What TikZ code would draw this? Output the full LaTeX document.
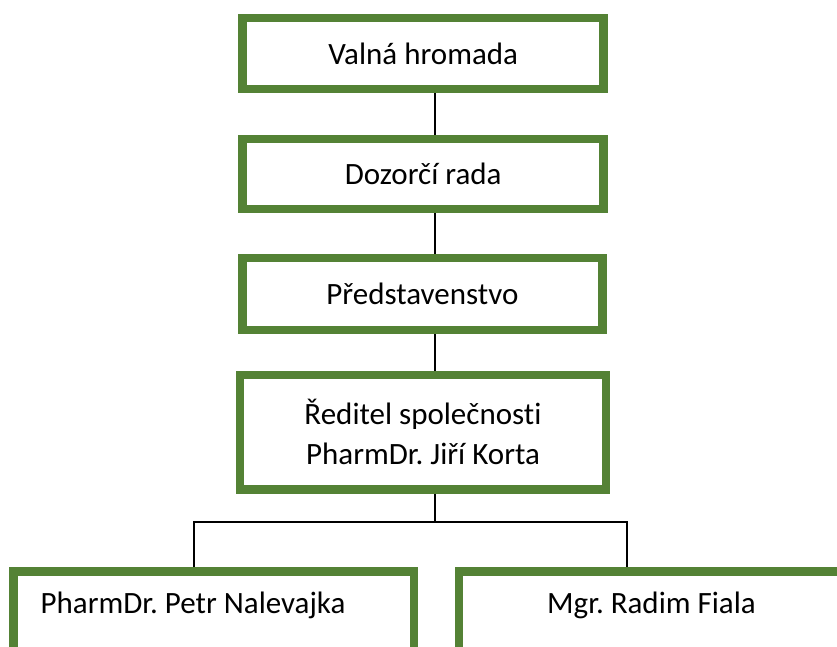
\documentclass[tikz,border=0pt]{standalone}
\usepackage{fontspec}
\setmainfont{Carlito}[Ligatures=NoCommon]
\usepackage{tikz}
\frenchspacing

\definecolor{boxgreen}{RGB}{84,130,53}

\tikzset{
  orgbox/.style={draw=boxgreen, line width=8.5pt, rectangle, fill=white,
    inner sep=0pt, align=center, font=\fontsize{31}{40}\selectfont},
  orgtext/.style={inner sep=0pt, anchor=base, font=\fontsize{31}{40}\selectfont},
  link/.style={black, line width=1.4pt}
}

\begin{document}
\begin{tikzpicture}[x=1pt,y=-1pt]
  \useasboundingbox (0,0) rectangle (837,646);

  % boxes of the chain
  \node[orgbox, minimum width=361pt, minimum height=70.6pt] (valna)   at (423.2,53.5) {Valná hromada};
  \node[orgbox, minimum width=361pt, minimum height=69.6pt] (dozor)   at (423.2,174)  {Dozorčí rada};
  \node[orgbox, minimum width=360pt, minimum height=71.6pt] (predst)  at (422.4,294)  {Představenstvo};
  \node[orgbox, minimum width=366pt, minimum height=114.5pt] (reditel) at (423,432.2) {Ředitel společnosti\\PharmDr. Jiří Korta};

  % bottom row, cut off by the page
  \node[orgbox, minimum width=400.5pt, minimum height=115pt] (petr)  at (213.5,628.75) {};
  \node[orgbox, minimum width=400pt,   minimum height=115pt] (fiala) at (659,628.75)   {};
  \node[orgtext] (petrtext)  at (193,613)   {PharmDr. Petr Nalevajka};
  \node[orgtext] (fialatext) at (651.5,613) {Mgr. Radim Fiala};

  % connectors
  \coordinate (spine) at (435,0);
  \coordinate (tapL) at (194,522);
  \coordinate (tapR) at (627,522);
  \draw[link] (valna.south -| spine) -- (dozor.north -| spine);
  \draw[link] (dozor.south -| spine) -- (predst.north -| spine);
  \draw[link] (predst.south -| spine) -- (reditel.north -| spine);
  \draw[link] (reditel.south -| spine) -- (spine |- tapL);
  \draw[link] (tapL |- petr.north) -- (tapL) -- (tapR) -- (tapR |- fiala.north);
\end{tikzpicture}
\end{document}
